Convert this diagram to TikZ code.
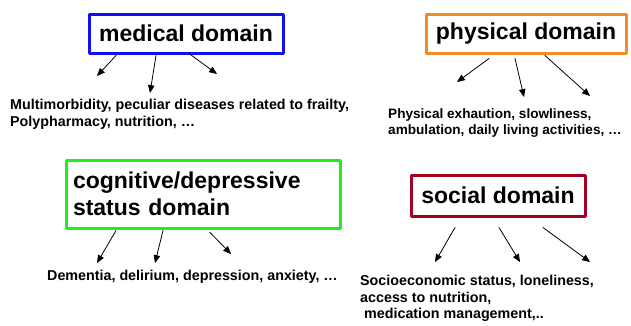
\documentclass[tikz,border=0pt]{standalone}
\usepackage{fontspec}
\setmainfont{Liberation Sans}
\usetikzlibrary{arrows}
\definecolor{medblue}{RGB}{16,16,240}
\definecolor{phyorange}{RGB}{242,140,40}
\definecolor{coggreen}{RGB}{30,240,30}
\definecolor{socred}{RGB}{165,0,33}
\tikzset{
  dombox/.style={draw,line width=3pt,inner xsep=6pt,inner ysep=0pt,
    font=\fontsize{23}{27}\selectfont\bfseries},
  listtxt/.style={anchor=north west,align=left,inner sep=0pt,
    font=\fontsize{14.3}{16.5}\selectfont\bfseries},
  arr/.style={->,line width=0.8pt}
}
\begin{document}
\begin{tikzpicture}[line cap=round,line join=round,>=triangle 45,x=1pt,
y=-1pt]
\useasboundingbox (0,0) rectangle (631,325);
% Các khung tiêu đề
\node[dombox,draw=medblue,minimum width=194pt,minimum height=39pt] (med) at (186,33.5) {medical domain};
\node[dombox,draw=phyorange,minimum width=200pt,minimum height=39pt] (phy) at (526,33.5) {physical domain};
\node[dombox,draw=coggreen,minimum width=274pt,minimum height=68pt,
  text width=260pt,align=left] (cog) at (203,194) {cognitive/depressive\\status domain};
\node[dombox,draw=socred,minimum width=174pt,minimum height=41pt] (soc) at (498,195.5) {social domain};
% Các dòng chữ bên dưới
\node[listtxt] (medtxt) at (10,99) {Multimorbidity, peculiar diseases related to frailty,\\Polypharmacy, nutrition, …};
\node[listtxt,font=\fontsize{13.6}{16.5}\selectfont\bfseries] (phytxt) at (388,108) {Physical exhaution, slowliness,\\ambulation, daily living activities, …};
\node[listtxt] (cogtxt) at (47,270) {Dementia, delirium, depression, anxiety, …};
\node[listtxt] (soctxt) at (360,275) {Socioeconomic status, loneliness,\\access to nutrition,\\\hspace{4pt}medication management,..};
% Điểm cuối các mũi tên
\coordinate (m1) at (97,76);
\coordinate (m2) at (150,93);
\coordinate (m3) at (217,74);
\coordinate (p1) at (457,82);
\coordinate (p2) at (524,97);
\coordinate (p3) at (590,96);
\coordinate (c1) at (97,263);
\coordinate (c2) at (155,263);
\coordinate (c3) at (231,254);
\coordinate (s1) at (435,262);
\coordinate (s2) at (520,262);
\coordinate (s3) at (590,262);
% Vẽ mũi tên
\draw[arr] ([xshift=-70pt,yshift=-1pt]med.south) -- (m1);
\draw[arr] ([xshift=-30pt,yshift=-1pt]med.south) -- (m2);
\draw[arr] ([xshift=3pt,yshift=1pt]med.south) -- (m3);
\draw[arr] ([xshift=-37pt,yshift=-4pt]phy.south) -- (p1);
\draw[arr] ([xshift=-11pt,yshift=-4pt]phy.south) -- (p2);
\draw[arr] ([xshift=19pt,yshift=-1pt]phy.south) -- (p3);
\draw[arr] ([xshift=-87pt,yshift=-1pt]cog.south) -- (c1);
\draw[arr] ([xshift=-40pt,yshift=-1pt]cog.south) -- (c2);
\draw[arr] ([xshift=7pt,yshift=-3pt]cog.south) -- (c3);
\draw[arr] ([xshift=-43pt,yshift=-10pt]soc.south) -- (s1);
\draw[arr] ([xshift=1pt,yshift=-10pt]soc.south) -- (s2);
\draw[arr] ([xshift=45pt,yshift=-10pt]soc.south) -- (s3);
\end{tikzpicture}
\end{document}
